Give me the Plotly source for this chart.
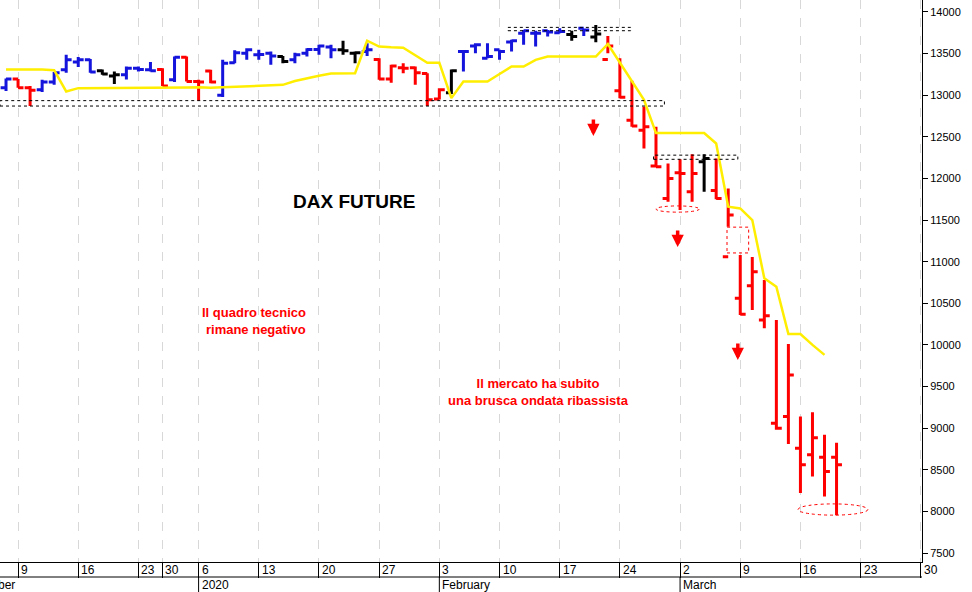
import plotly.graph_objects as go

# trading day index (0 = 9 Dec 2019)
idx = list(range(-1, 69))
opens = [13090,13195,13090,13065,13160,13305,13400,13425,13295,13230,13245,13325,13305,13310,13185,13455,13165,13290,13000,13390,
         13505,13485,13505,13465,13425,13505,13550,13580,13545,13505,13525,13430,13195,13330,13330,13260,12955,13030,13525,13590,
         13445,13545,13640,13745,13745,13775,13750,13730,13805,13700,13430,13055,12700,12580,12150,11760,12070,11840,12200,11855,
         11060,10560,10710,10300,9060,9140,8760,8680,8650,8650][:70]
highs = [13200,13195,13110,13185,13280,13485,13460,13435,13310,13285,13345,13345,13400,13325,13465,13465,13185,13305,13425,13540,
         13565,13545,13525,13470,13510,13565,13605,13605,13655,13525,13625,13445,13365,13385,13345,13265,13085,13310,13535,13625,
         13625,13545,13665,13785,13775,13785,13805,13775,13795,13845,13710,13445,13175,12860,12620,12180,12230,12290,12290,12240,
         11880,11080,11055,10780,10300,10010,9140,9190,8920,8825][:70]
lows = [13050,13090,12870,13040,13125,13270,13340,13270,13245,13135,13190,13285,13285,13110,13160,13165,12935,13145,12980,13385,
        13425,13425,13365,13385,13385,13465,13485,13445,13485,13385,13470,13185,13150,13265,13125,12870,12950,13015,13285,13505,
        13445,13425,13525,13605,13585,13705,13745,13655,13710,13635,13505,12965,12620,12360,12140,11720,11620,11720,11840,11750,
        11420,10360,10420,10200,8980,8810,8220,8420,8180,7955][:70]
closes = [13195,13090,13060,13160,13270,13425,13425,13280,13255,13245,13325,13310,13295,13110,13455,13165,13160,13160,13385,13510,
          13545,13490,13470,13405,13485,13550,13590,13545,13535,13510,13545,13195,13350,13325,13270,12945,13065,13295,13525,13605,
          13465,13525,13655,13775,13745,13760,13765,13705,13785,13735,13590,12975,12630,12620,12140,12000,12060,12060,12240,11760,
          11560,10370,10880,10350,9000,9640,8560,8885,8480,8560][:70]
colors = list("BRRBBBBBKKBBBRBRRRBBBBBKBBBBKKBRRRRRRKBBBBBBBBBKBKRRRRRRRRKRRRRRRRRRRR")

# yellow stop line
stop = [13310,13310,13310,13310,13300,13045,13085,13085,13085,13085,13085,13088,13090,13090,13092,13094,13095,13090,13095,13100,
        13105,13110,13115,13125,13170,13205,13235,13260,13265,13265,13655,13585,13575,13570,13480,13390,13390,12965,13165,13165,
        13165,13255,13345,13345,13425,13465,13465,13465,13465,13465,13615,13390,13170,12945,12545,12545,12545,12545,12545,12420,
        11660,11640,11500,10800,10700,10130,10130,10000,9880]

tick_idx = [0,5,10,12,15,20,25,30,35,40,45,50,55,60,65,70,75]
tick_txt = ["9","16","23","30","6","13","20","27","3","10","17","24","2","9","16","23","30"]
month_idx = [-2.0, 14.5, 34.5, 54.5]
month_txt = ["ber","2020","February","March"]
yticks = list(range(7500, 14001, 500))

cmap = {"B": "#1414dc", "R": "#ff0000", "K": "#000000"}
n = min(len(opens), len(highs), len(lows), len(closes), len(colors))
fig = go.Figure()
fig.add_trace(go.Scatter(x=idx[:len(stop)], y=stop, mode="lines",
                         line=dict(color="#ffee00", width=2.5), hoverinfo="skip"))
for key, col in cmap.items():
    sel = [i for i in range(n) if colors[i] == key]
    fig.add_trace(go.Ohlc(x=[idx[i] for i in sel], open=[opens[i] for i in sel],
                          high=[highs[i] for i in sel], low=[lows[i] for i in sel],
                          close=[closes[i] for i in sel], tickwidth=0.45,
                          increasing=dict(line=dict(color=col, width=3)),
                          decreasing=dict(line=dict(color=col, width=3))))

dash = dict(color="black", width=1, dash="dot")
shapes = [
    dict(type="rect", x0=-1.5, x1=53.7, y0=12870, y1=12935, line=dash),
    dict(type="rect", x0=40.7, x1=50.9, y0=13775, y1=13815, line=dash),
    dict(type="rect", x0=52.8, x1=59.8, y0=12230, y1=12280, line=dash),
    dict(type="circle", x0=53.0, x1=56.6, y0=11595, y1=11670, line=dict(color="red", width=1, dash="dot")),
    dict(type="rect", x0=58.9, x1=60.7, y0=11105, y1=11415, line=dict(color="red", width=1, dash="dot")),
    dict(type="circle", x0=64.8, x1=70.6, y0=7955, y1=8090, line=dict(color="red", width=1, dash="dot")),
    dict(type="line", xref="paper", x0=0, x1=1, yref="paper", y0=-0.0267, y1=-0.0267, line=dict(color="black", width=1)),
]
for m in month_idx[1:]:
    shapes.append(dict(type="line", x0=m + 0.5, x1=m + 0.5, yref="paper", y0=-0.0267, y1=-0.055,
                       line=dict(color="black", width=1)))

ann = []
fnt = dict(size=12, color="black", family="Liberation Sans Narrow, Liberation Sans")
for t, s in zip(tick_idx, tick_txt):
    ann.append(dict(x=t, y=-0.0135, yref="paper", text=s, showarrow=False, xanchor="left", yanchor="middle",
                    xshift=1, font=fnt))
for t, s in zip(month_idx, month_txt):
    ann.append(dict(x=t + 0.5, y=-0.0415, yref="paper", text=s, showarrow=False, xanchor="left", yanchor="middle",
                    xshift=-4 if s == "ber" else 1, font=fnt))
for ax_, ay_top in [(47.8, 12510), (54.8, 11175), (59.8, 9820)]:
    ann.append(dict(x=ax_, y=ay_top, ax=0, ay=-18, showarrow=True, arrowhead=2, arrowsize=0.7,
                    arrowwidth=3.5, arrowcolor="red", text=""))
ann += [
    dict(x=27.9, y=11720, text="<b>DAX FUTURE</b>", showarrow=False, font=dict(size=19, color="black", family="Liberation Sans")),
    dict(x=19.6, y=10290, text="<b>Il quadro tecnico<br> rimane negativo</b>", showarrow=False,
         font=dict(size=13, color="red", family="Liberation Sans")),
    dict(x=43.2, y=9430, text="<b>Il mercato ha subito<br>una brusca ondata ribassista</b>", showarrow=False,
         font=dict(size=13, color="red", family="Liberation Sans")),
]

fig.update_layout(width=972, height=592, margin=dict(l=0, r=50, t=0, b=30, autoexpand=False),
                  plot_bgcolor="white", paper_bgcolor="white", showlegend=False,
                  shapes=shapes, annotations=ann)
fig.update_xaxes(range=[-1.5, 75.1], tickvals=tick_idx, showticklabels=False, ticks="outside", ticklen=15,
                 tickcolor="black", showgrid=True, gridcolor="#d8d8d8", griddash="dash", gridwidth=1,
                 showline=True, linecolor="black", rangeslider=dict(visible=False), zeroline=False)
fig.update_yaxes(range=[7392, 14144], side="right", tickvals=yticks, ticktext=[str(v) for v in yticks],
                 ticks="outside", ticklen=5,
                 tickcolor="black", showgrid=False, showline=True, linecolor="black", zeroline=False,
                 tickfont=dict(size=11, color="black", family="Liberation Sans"))
fig.write_html("out.html", config={"displayModeBar": False},
               post_script="document.body.style.margin='0';document.body.style.overflow='hidden';")
